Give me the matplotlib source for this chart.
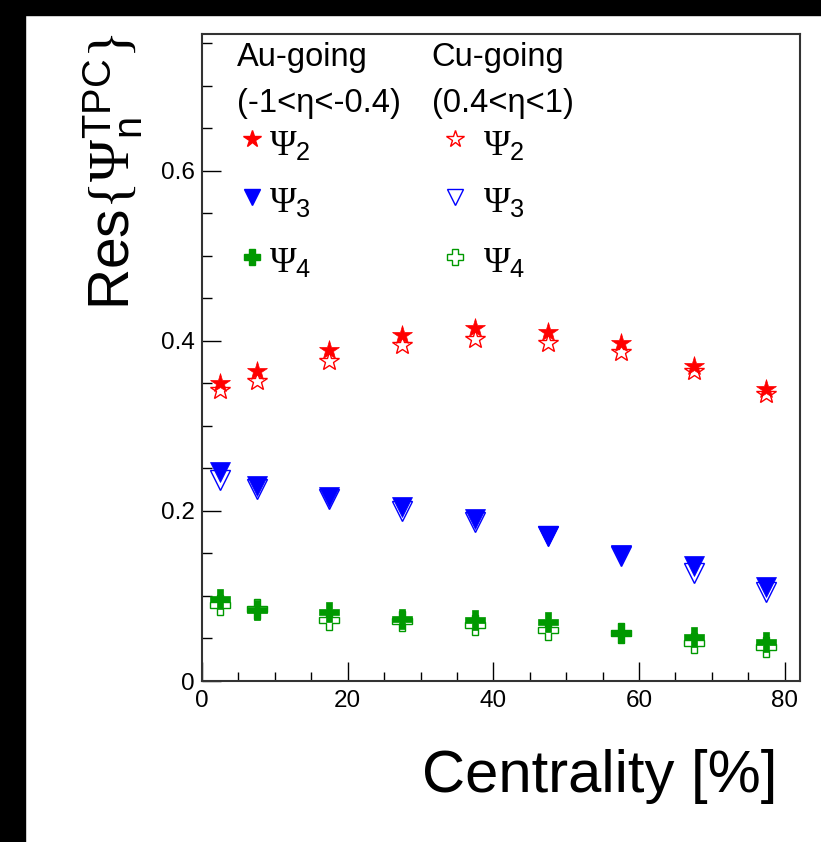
import matplotlib.pyplot as plt
from matplotlib.patches import Rectangle
from matplotlib.ticker import MultipleLocator

plt.rcParams['font.family'] = ['Liberation Sans', 'DejaVu Sans']
plt.rcParams['mathtext.fontset'] = 'custom'
plt.rcParams['mathtext.rm'] = 'Liberation Serif'
plt.rcParams['mathtext.sf'] = 'Liberation Sans'
plt.rcParams['mathtext.it'] = 'Liberation Serif:italic'

# centrality bin centres [%]
cent = [2.5, 7.5, 17.5, 27.5, 37.5, 47.5, 57.5, 67.5, 77.5]

# Au-going (-1<eta<-0.4), filled markers
psi2_au = [0.350, 0.365, 0.389, 0.407, 0.415, 0.410, 0.397, 0.371, 0.344]
psi3_au = [0.246, 0.229, 0.216, 0.205, 0.191, 0.171, 0.148, 0.135, 0.111]
psi4_au = [0.097, 0.083, 0.081, 0.073, 0.072, 0.069, 0.057, 0.052, 0.046]

# Cu-going (0.4<eta<1), open markers
psi2_cu = [0.342, 0.353, 0.376, 0.395, 0.402, 0.398, 0.387, 0.365, 0.338]
psi3_cu = [0.236, 0.226, 0.214, 0.200, 0.187, 0.170, 0.147, 0.127, 0.105]
psi4_cu = [0.089, 0.085, 0.072, 0.070, 0.066, 0.060, 0.056, 0.045, 0.040]

red = '#ff0000'
blue = '#0000ff'
green = '#009900'

fig = plt.figure(figsize=(8.21, 8.42), dpi=100)
fig.patches.append(Rectangle((0, 0), 25 / 821, 1, transform=fig.transFigure,
                             color='black', zorder=0))
fig.patches.append(Rectangle((0, 1 - 15 / 842), 1, 15 / 842, transform=fig.transFigure,
                             color='black', zorder=0))

ax = fig.add_axes([202 / 821, 1 - 681 / 842, 598 / 821, 647 / 842])

series = [
    (psi2_cu, psi2_au, '*', 15, red),
    (psi3_cu, psi3_au, 'v', 14.5, blue),
    (psi4_cu, psi4_au, 'P', 14.5, green),
]
for cu, au, m, ms, c in series:
    ax.plot(cent, cu, ls='none', marker=m, ms=ms, mfc='white', mec=c, mew=1.0, zorder=3)
    ax.plot(cent, au, ls='none', marker=m, ms=ms, mfc=c, mec=c, mew=0.5, zorder=4)

ax.set_xlim(0, 82.1)
ax.set_ylim(0, 0.761)
ax.xaxis.set_major_locator(MultipleLocator(20))
ax.xaxis.set_minor_locator(MultipleLocator(5))
ax.yaxis.set_major_locator(MultipleLocator(0.2))
ax.yaxis.set_minor_locator(MultipleLocator(0.05))
ax.yaxis.set_major_formatter(lambda v, p: '0' if v == 0 else f'{v:.1f}')

ax.tick_params(which='both', direction='in', top=False, right=False, width=1.0,
               labelsize=17.5)
ax.tick_params(axis='x', which='major', length=13.5, pad=6.5)
ax.tick_params(axis='x', which='minor', length=6.7)
ax.tick_params(axis='y', which='major', length=14, pad=5)
ax.tick_params(axis='y', which='minor', length=7)
for s in ax.spines.values():
    s.set_linewidth(1.5)
    s.set_color('#333333')

ax.set_xlabel('Centrality [%]', fontsize=43, loc='right')
ax.xaxis.set_label_coords(0.963, -0.105)
ax.set_ylabel(r'$\mathsf{Res}\{\Psi_{\mathsf{n}}^{\mathsf{TPC}}\}$', fontsize=41, loc='top')
ax.yaxis.set_label_coords(-0.095, 1.0)

# legend block
ax.text(0.0585, 0.964, 'Au-going', transform=ax.transAxes, fontsize=23.5, va='center')
ax.text(0.384, 0.964, 'Cu-going', transform=ax.transAxes, fontsize=23.5, va='center')
ax.text(0.0585, 0.893, '(-1<η<-0.4)', transform=ax.transAxes, fontsize=23.5, va='center')
ax.text(0.384, 0.893, '(0.4<η<1)', transform=ax.transAxes, fontsize=23.5, va='center')

rows = [(0.837, '*', 13, red, '2'), (0.7486, 'v', 11, blue, '3'), (0.6549, 'P', 11, green, '4')]
for y, m, ms, c, n in rows:
    ax.plot([0.083], [y], transform=ax.transAxes, ls='none', marker=m, ms=ms,
            mfc=c, mec=c, clip_on=False)
    ax.plot([0.423], [y], transform=ax.transAxes, ls='none', marker=m, ms=ms,
            mfc='white', mec=c, mew=1.0, clip_on=False)
    lab = r'$\Psi_{\mathsf{' + n + '}}$'
    ax.text(0.112, y - 0.01, lab, transform=ax.transAxes, fontsize=26, va='center')
    ax.text(0.470, y - 0.01, lab, transform=ax.transAxes, fontsize=26, va='center')

fig.savefig('out.png', dpi=100)
